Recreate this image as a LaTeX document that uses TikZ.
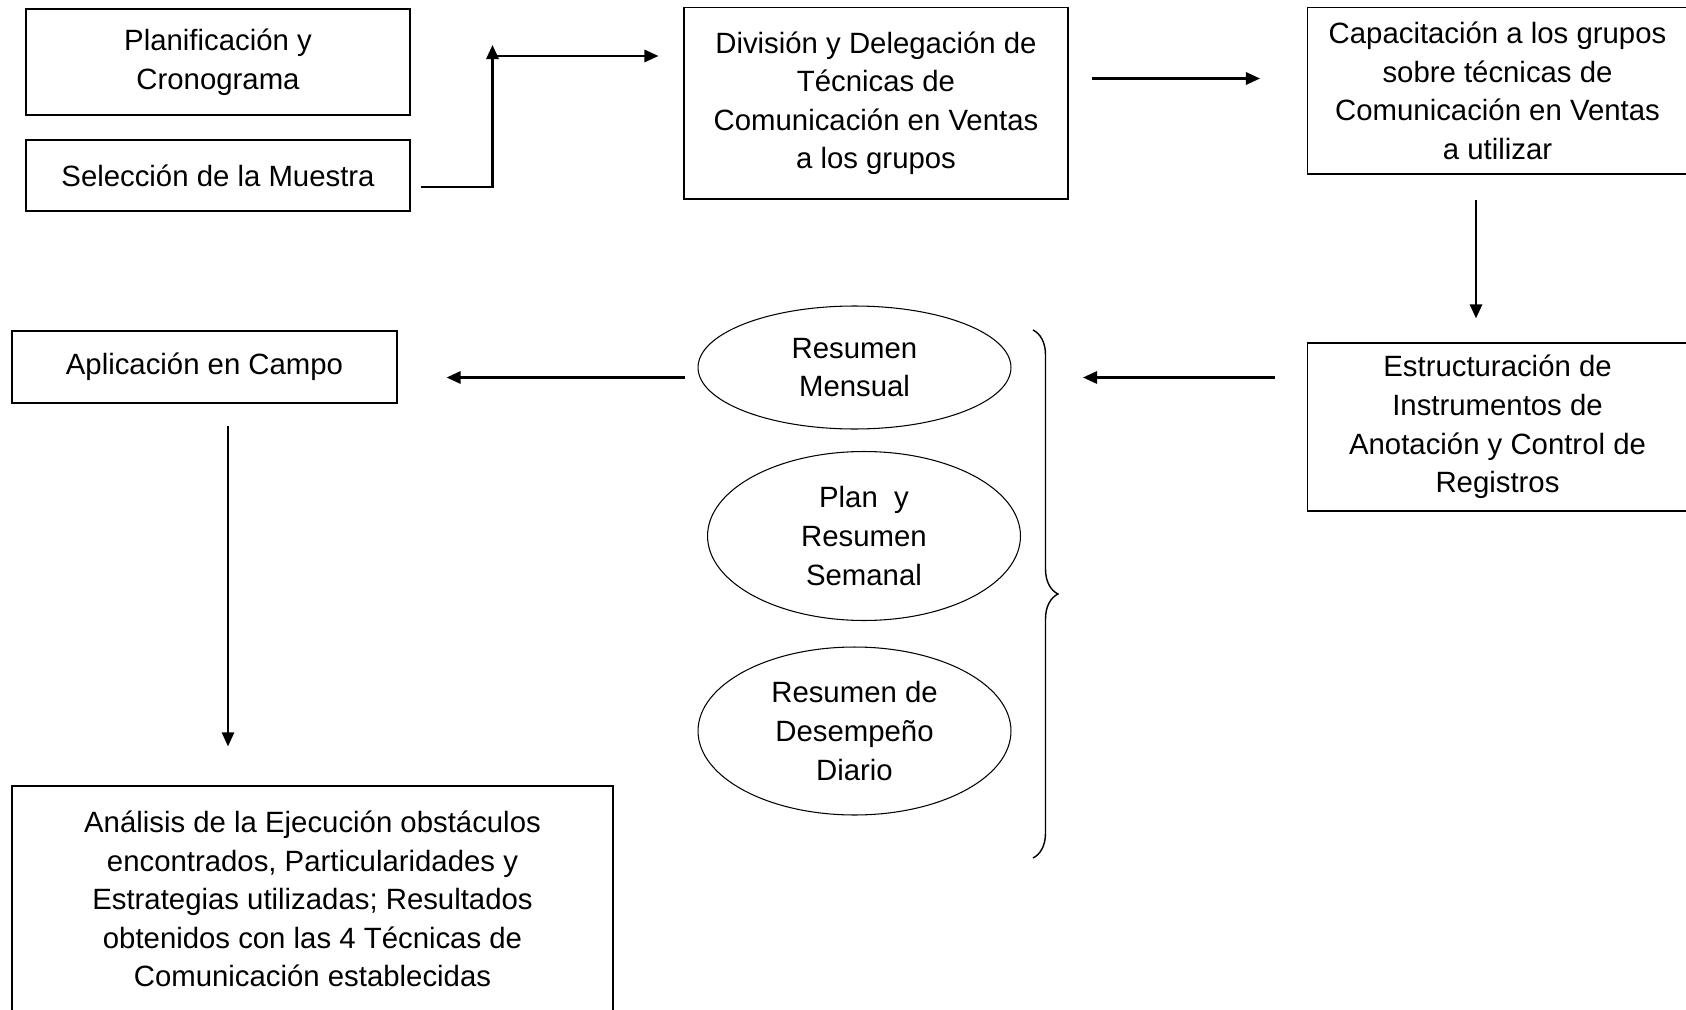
\documentclass[tikz,border=0pt]{standalone}
\usepackage{fontspec}
\setmainfont{Liberation Sans}
\usetikzlibrary{shapes.geometric, arrows.meta, positioning, decorations.pathreplacing}

\begin{document}
\begin{tikzpicture}[
    x=0.02cm, y=-0.02cm,
    every node/.style={font=\fontsize{16.7}{22}\selectfont, align=center},
    box/.style={draw, line width=0.7pt, inner sep=2pt},
    oval/.style={draw, ellipse, line width=0.6pt, inner sep=0pt},
    arr/.style={-{Triangle[length=8pt, width=7pt]}, line width=1.3pt}
]
    \clip (0,0) rectangle (1686,1010);
    \useasboundingbox (0,0) rectangle (1686,1010);

    % top row
    \node[box, minimum width=7.68cm, minimum height=2.12cm] (plan) at (218,62)
        {Planificación y\\Cronograma};
    \node[box, minimum width=7.68cm, minimum height=1.42cm] (sel) at (218,175.5)
        {Selección de la Muestra};
    \node[box, minimum width=7.68cm, minimum height=3.83cm] (div) at (876,103.25)
        {División y Delegación de\\Técnicas de\\Comunicación en Ventas\\a los grupos};
    \node[box, minimum width=7.6cm, minimum height=3.33cm] (cap) at (1497.5,90.75)
        {Capacitación a los grupos\\sobre técnicas de\\Comunicación en Ventas\\a utilizar};

    % middle row
    \node[box, minimum width=7.6cm, minimum height=3.36cm] (est) at (1497.5,427)
        {Estructuración de\\Instrumentos de\\Anotación y Control de\\Registros};
    \node[oval, minimum width=6.26cm, minimum height=2.46cm] (mens) at (854.5,367.5)
        {Resumen\\Mensual};
    \node[oval, minimum width=6.26cm, minimum height=3.38cm] (sem) at (864,536)
        {Plan~ y\\Resumen\\Semanal};
    \node[oval, minimum width=6.26cm, minimum height=3.36cm] (dia) at (854.5,731)
        {Resumen de\\Desempeño\\Diario};
    \node[box, minimum width=7.7cm, minimum height=1.44cm] (apl) at (204.5,367)
        {Aplicación en Campo};

    % bottom
    \node[box, minimum width=12.02cm, minimum height=4.52cm] (ana) at (312.5,899)
        {Análisis de la Ejecución obstáculos\\encontrados, Particularidades y\\Estrategias utilizadas; Resultados\\obtenidos con las 4 Técnicas de\\Comunicación establecidas};

    % brace grouping the summaries
    \coordinate (btop) at (1033,330);
    \coordinate (bbot) at (1033,858);
    \draw[line width=0.8pt, decorate, decoration={brace, amplitude=0.5cm}] (btop) -- (bbot);

    % connectors
    \coordinate (bend) at (492.5,45);
    \coordinate (join) at (492.5,56);
    \coordinate (bin) at (1083,377.5);
    \draw[arr] ([shift={(10,11.5)}]sel.east) -| (bend);
    \draw[arr, shorten >=14.2pt] (join) -- (join -| div.west);
    \draw[arr, shorten <=13.1pt, shorten >=26.7pt] (div.east |- 0,78.5) -- (cap.west |- 0,78.5);
    \draw[arr, shorten <=14.2pt, shorten >=13.7pt] (1476,0 |- cap.south) -- (1476,0 |- est.north);
    \draw[arr, shorten <=18.2pt] (est.west |- bin) -- (bin);
    \draw[arr, shorten <=7.4pt, shorten >=27.9pt] (mens.west |- 0,377.5) -- (apl.east |- 0,377.5);
    \draw[arr, line width=1pt, shorten <=12.5pt, shorten >=22.2pt] (228,0 |- apl.south) -- (228,0 |- ana.north);
\end{tikzpicture}
\end{document}
